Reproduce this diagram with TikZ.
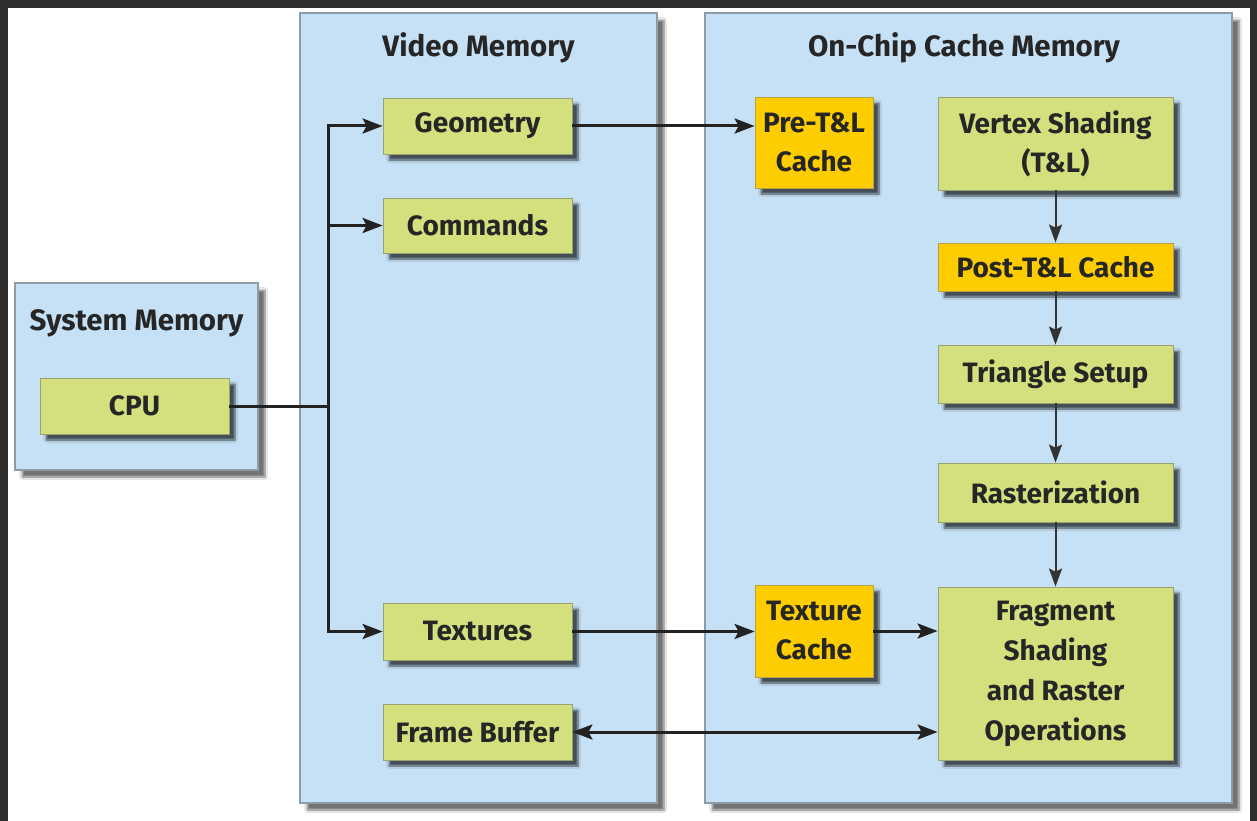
\documentclass[tikz,border=0pt]{standalone}
\usepackage{fontspec}
\setmainfont{Fira Sans}
\usetikzlibrary{arrows.meta,fit,shadows.blur}

\definecolor{frame}{HTML}{2E2E2E}
\definecolor{panelfill}{HTML}{C6E1F5}
\definecolor{paneledge}{HTML}{8E9CA8}
\definecolor{stagefill}{HTML}{D3E07D}
\definecolor{stageedge}{HTML}{9AA370}
\definecolor{cachefill}{HTML}{FDCD00}
\definecolor{cacheedge}{HTML}{B8A04A}
\definecolor{flowline}{HTML}{222222}
\definecolor{pipeline}{HTML}{333333}

\tikzset{
  panel/.style={draw=paneledge, line width=1.2pt, fill=panelfill, inner sep=0pt,
    blur shadow={shadow xshift=7pt, shadow yshift=-7pt, shadow blur steps=8, shadow opacity=55}},
  paneltitle/.style={font=\fontsize{29.5}{34}\selectfont\bfseries, text=black!85, inner sep=0pt},
  stage/.style={draw=stageedge, line width=0.8pt, fill=stagefill, inner sep=0pt,
    align=center, font=\fontsize{28}{39}\selectfont\bfseries, text=black!85,
    blur shadow={shadow xshift=6pt, shadow yshift=-6pt, shadow blur steps=6, shadow opacity=65}},
  cache/.style={stage, draw=cacheedge, fill=cachefill},
  wide/.style={minimum width=189pt},
  col/.style={minimum width=235pt},
  narrow/.style={minimum width=118pt},
  bus/.style={draw=flowline, line width=3pt},
  feed/.style={bus, -{Stealth[length=20pt,width=15pt,inset=4pt]}},
  both/.style={bus, {Stealth[length=20pt,width=15pt,inset=4pt]}-{Stealth[length=20pt,width=15pt,inset=4pt]}},
  pipe/.style={draw=pipeline, line width=2pt, -{Stealth[length=18pt,width=13pt,inset=3pt]}},
}

\begin{document}
\begin{tikzpicture}[x=1pt,y=-1pt]
  % page frame
  \fill[frame] (0,0) rectangle (1257,821);
  \fill[white] (8,8) rectangle (1250,821);
  \useasboundingbox (0,0) rectangle (1257,821);

  % memory regions
  \node[panel, fit={(15,283)(258,470)}] (sys) {};
  \node[panel, fit={(300,13)(657,803)}] (vid) {};
  \node[panel, fit={(705,13)(1232,803)}] (chip) {};

  \node[paneltitle] (systitle) at (136.5,323) {System Memory};
  \node[paneltitle] (vidtitle) at (478.5,48) {Video Memory};
  \node[paneltitle] (chiptitle) at (964,48) {On-Chip Cache Memory};

  % system memory
  \node[stage, wide, minimum height=56pt] (cpu) at (134.5,406) {CPU};

  % video memory
  \node[stage, wide, minimum height=56pt] (geom) at (477.5,126) {Geometry};
  \node[stage, wide, minimum height=55pt] (cmds) at (477.5,225.5) {Commands};
  \node[stage, wide, minimum height=57pt] (tex) at (477.5,631.5) {Textures};
  \node[stage, wide, minimum height=56pt] (fb) at (477.5,732) {Frame Buffer};

  % on-chip caches and pipeline
  \node[cache, narrow, minimum height=91pt] (pre) at (814,142.5) {Pre-T\&L\\Cache};
  \node[stage, col, minimum height=93pt] (vs) at (1055.5,143.5) {Vertex Shading\\(T\&L)};
  \node[cache, col, minimum height=48pt] (post) at (1055.5,267) {Post-T\&L Cache};
  \node[stage, col, minimum height=58pt] (tri) at (1055.5,374) {Triangle Setup};
  \node[stage, col, minimum height=59pt] (ras) at (1055.5,492.5) {Rasterization};
  \node[cache, narrow, minimum height=92pt] (texc) at (814,631) {Texture\\Cache};
  \node[stage, col, minimum height=173pt, font=\fontsize{28}{40}\selectfont\bfseries] (frag) at (1055.5,673.5)
    {Fragment\\Shading\\and Raster\\Operations};

  % CPU bus into video memory
  \coordinate (busj) at (328,0 |- cpu.east);
  \coordinate (bustop) at (328,0 |- geom.west);
  \coordinate (busbot) at (328,0 |- tex.west);
  \draw[bus] (cpu.east) -- (busj);
  \draw[bus, line cap=rect] (bustop) -- (busbot);
  \draw[feed] (bustop) -- (geom.west);
  \draw[feed] (busj |- cmds.west) -- (cmds.west);
  \draw[feed] (busbot) -- (tex.west);

  % video memory to on-chip caches
  \draw[feed] (geom.east) -- (geom.east -| pre.west);
  \draw[feed] (tex.east) -- (tex.east -| texc.west);
  \draw[feed] (texc.east) -- (texc.east -| frag.west);
  \coordinate (fbin) at (fb.east);
  \draw[both] (fb.east) -- (fbin -| frag.west);

  % pipeline
  \draw[pipe] (vs.south) -- (post.north);
  \draw[pipe] (post.south) -- (tri.north);
  \draw[pipe] (tri.south) -- (ras.north);
  \draw[pipe] (ras.south) -- (frag.north);
\end{tikzpicture}
\end{document}
